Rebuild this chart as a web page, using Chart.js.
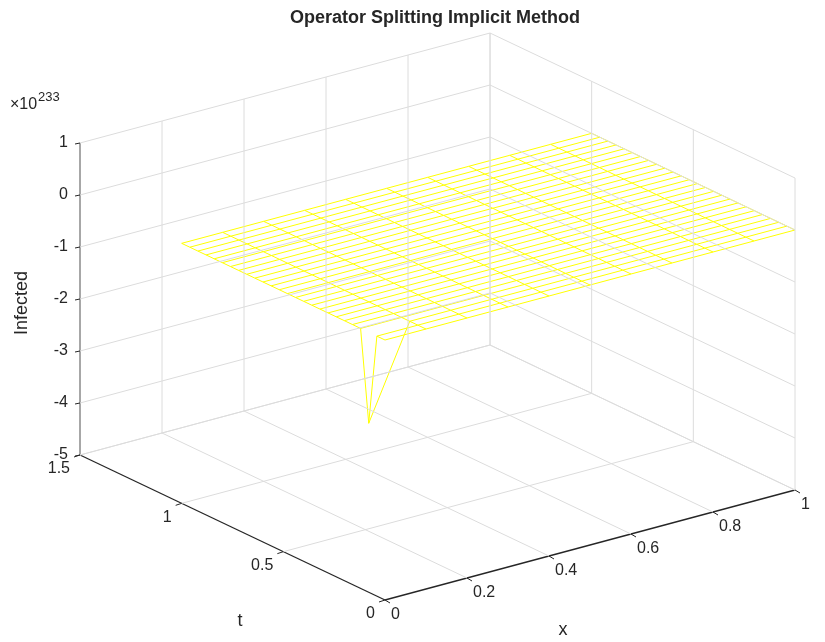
<!DOCTYPE html>
<html>
<head>
<script src="https://cdn.jsdelivr.net/npm/chart.js@4"></script>
<style>
  html, body { margin: 0; padding: 0; background: #fff; }
  #wrap { width: 825px; height: 642px; }
</style>
</head>
<body>
<div id="wrap"><canvas id="grafico"></canvas></div>
<script>
// datos de la superficie (escala x10^233)
const xs = [0, 0.1, 0.2, 0.3, 0.4, 0.5, 0.6, 0.7, 0.8, 0.9, 1]
const ts = [0, 0.04, 0.08, 0.12, 0.16, 0.2, 0.24, 0.28, 0.32, 0.36, 0.4, 0.44, 0.48,
            0.52, 0.56, 0.6, 0.64, 0.68, 0.72, 0.76, 0.8, 0.84, 0.88, 0.92, 0.96, 1]
const filaSpike = [-1.75, 0, 0, 0, 0, 0, 0, 0, 0, 0, 0]
const filaPlana = [0, 0, 0, 0, 0, 0, 0, 0, 0, 0, 0]
const infectados = [
  filaPlana, filaPlana, filaSpike, filaPlana, filaPlana, filaPlana, filaPlana,
  filaPlana, filaPlana, filaPlana, filaPlana, filaPlana, filaPlana, filaPlana,
  filaPlana, filaPlana, filaPlana, filaPlana, filaPlana, filaPlana, filaPlana,
  filaPlana, filaPlana, filaPlana, filaPlana, filaPlana
]
const ticksX = [0, 0.2, 0.4, 0.6, 0.8, 1]
const ticksT = [0, 0.5, 1, 1.5]
const ticksZ = [-5, -4, -3, -2, -1, 0, 1]

// proyeccion 3D -> 2D (vista de MATLAB)
function proj(x, t, z) {
    return {
        x: 385 + x * 410 - (t / 1.5) * 305,
        y: 600 - x * 110 - (t / 1.5) * 145 - (z + 5) * 52
    }
}

const datasets = []
function linea(puntos, color, ancho) {
    datasets.push({
        data: puntos, showLine: true, pointRadius: 0, borderColor: color,
        borderWidth: ancho, fill: false, tension: 0
    })
}

const gris = '#dcdcdc'
// pared trasera t=1.5
for (let x of ticksX) linea([proj(x, 1.5, -5), proj(x, 1.5, 1)], gris, 1)
for (let z of ticksZ) linea([proj(0, 1.5, z), proj(1, 1.5, z)], gris, 1)
// pared x=1
for (let t of ticksT) linea([proj(1, t, -5), proj(1, t, 1)], gris, 1)
for (let z of ticksZ) linea([proj(1, 0, z), proj(1, 1.5, z)], gris, 1)
// piso
for (let x of ticksX.slice(1)) linea([proj(x, 0, -5), proj(x, 1.5, -5)], gris, 1)
for (let t of ticksT.slice(1)) linea([proj(0, t, -5), proj(1, t, -5)], gris, 1)

// malla amarilla
for (let i = 0; i < ts.length; i++) {
    linea(xs.map((x, j) => proj(x, ts[i], infectados[i][j])), '#ffff00', 1)
}
for (let j = 0; j < xs.length; j++) {
    linea(ts.map((t, i) => proj(xs[j], t, infectados[i][j])), '#ffff00', 1)
}

// ejes
const negro = '#262626'
linea([proj(0, 1.5, -5), proj(0, 1.5, 1)], negro, 1.3)
linea([proj(0, 0, -5), proj(0, 1.5, -5)], negro, 1.3)
linea([proj(0, 0, -5), proj(1, 0, -5)], negro, 1.3)

const etiquetas = {
    id: 'etiquetas',
    afterDraw(chart) {
        const ctx = chart.ctx
        const sx = chart.scales.x, sy = chart.scales.y
        const px = p => ({ x: sx.getPixelForValue(p.x), y: sy.getPixelForValue(p.y) })
        ctx.save()
        ctx.fillStyle = '#262626'
        ctx.strokeStyle = '#262626'
        ctx.font = '16px Arial, "Liberation Sans", sans-serif'
        // z
        ctx.textAlign = 'right'; ctx.textBaseline = 'middle'
        for (let z of ticksZ) {
            const p = px(proj(0, 1.5, z))
            ctx.beginPath(); ctx.moveTo(p.x, p.y); ctx.lineTo(p.x - 5, p.y + 1); ctx.stroke()
            ctx.fillText(String(z), p.x - 12, p.y)
        }
        // t
        for (let t of ticksT) {
            const p = px(proj(0, t, -5))
            ctx.beginPath(); ctx.moveTo(p.x, p.y); ctx.lineTo(p.x - 6, p.y + 2); ctx.stroke()
            ctx.textAlign = 'right'; ctx.textBaseline = 'top'
            ctx.fillText(String(t), p.x - 10, p.y + 6)
        }
        // x
        for (let x of ticksX) {
            const p = px(proj(x, 0, -5))
            ctx.beginPath(); ctx.moveTo(p.x, p.y); ctx.lineTo(p.x + 5, p.y + 3); ctx.stroke()
            ctx.textAlign = 'left'; ctx.textBaseline = 'top'
            ctx.fillText(String(x), p.x + 6, p.y + 7)
        }
        // titulos
        ctx.textAlign = 'center'; ctx.textBaseline = 'middle'
        ctx.font = '18px Arial, "Liberation Sans", sans-serif'
        ctx.fillText('x', 563, 630)
        ctx.fillText('t', 240, 621)
        ctx.save()
        ctx.translate(22, 303); ctx.rotate(-Math.PI / 2)
        ctx.fillText('Infected', 0, 0)
        ctx.restore()
        ctx.font = 'bold 18px Arial, "Liberation Sans", sans-serif'
        ctx.fillText('Operator Splitting Implicit Method', 435, 18)
        ctx.textAlign = 'left'
        ctx.font = '16px Arial, "Liberation Sans", sans-serif'
        ctx.fillText('\u00d710', 10, 105)
        ctx.font = '13px Arial, "Liberation Sans", sans-serif'
        ctx.fillText('233', 38, 97)
        ctx.restore()
    }
}

new Chart(grafico, {
    type: 'scatter',
    data: { datasets: datasets },
    options: {
        responsive: true,
        maintainAspectRatio: false,
        animation: false,
        layout: { padding: 0 },
        plugins: { legend: { display: false }, tooltip: { enabled: false } },
        scales: {
            x: { type: 'linear', min: 0, max: 825, display: false },
            y: { type: 'linear', min: 0, max: 642, reverse: true, display: false }
        }
    },
    plugins: [etiquetas]
})
</script>
</body>
</html>
